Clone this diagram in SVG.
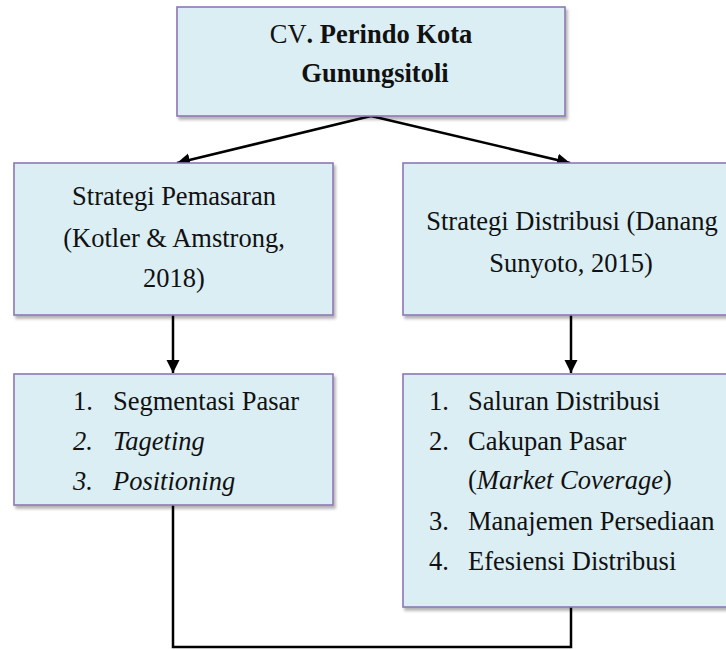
<svg xmlns="http://www.w3.org/2000/svg" width="726" height="650" viewBox="0 0 726 650">
<style>
.box{fill:#DAEEF3;stroke:#8E77B5;stroke-width:1.6;filter:url(#sh)}
.t{font-family:"Liberation Serif","Times New Roman",serif;font-size:26.5px;fill:#111}
.c{text-anchor:middle}
.b{font-weight:bold}
.i{font-style:italic}
.ln{fill:none;stroke:#000;stroke-width:2.5}
</style>
<defs>
<filter id="sh" x="-10%" y="-10%" width="120%" height="130%">
<feDropShadow dx="2" dy="3" stdDeviation="1.8" flood-color="#000" flood-opacity="0.3"/>
</filter>
<marker id="ah" markerUnits="userSpaceOnUse" markerWidth="14" markerHeight="14" viewBox="0 0 14 14" refX="13" refY="7" orient="auto">
<path d="M0,0.5 L13,7 L0,13.5 Z" fill="#000"/>
</marker>
</defs>
<rect width="726" height="650" fill="#fff"/>
<g id="connectors">
<line class="ln" x1="371" y1="116" x2="177" y2="163" marker-end="url(#ah)"/>
<line class="ln" x1="371" y1="116" x2="570" y2="163" marker-end="url(#ah)"/>
<line class="ln" x1="173" y1="315" x2="173" y2="373" marker-end="url(#ah)"/>
<line class="ln" x1="571" y1="315" x2="571" y2="373" marker-end="url(#ah)"/>
<polyline class="ln" points="173,505 173,647 571,647 571,607"/>
</g>
<g id="top">
<rect class="box" x="177" y="7" width="388" height="109"/>
<text class="t c" x="371" y="43">CV<tspan class="b">. Perindo Kota</tspan></text>
<text class="t c b" x="375" y="82">Gunungsitoli</text>
</g>
<g id="pemasaran">
<rect class="box" x="14" y="163" width="319" height="152"/>
<text class="t c" x="174" y="205">Strategi Pemasaran</text>
<text class="t c" x="174" y="247">(Kotler &amp; Amstrong,</text>
<text class="t c" x="174" y="287">2018)</text>
</g>
<g id="distribusi">
<rect class="box" x="403" y="163" width="340" height="152"/>
<text class="t c" x="572" y="230">Strategi Distribusi (Danang</text>
<text class="t c" x="571" y="272">Sunyoto, 2015)</text>
</g>
<g id="stp">
<rect class="box" x="14" y="374" width="319" height="131"/>
<text class="t" x="73" y="410">1.</text>
<text class="t" x="113" y="410">Segmentasi Pasar</text>
<text class="t i" x="73" y="450">2.</text>
<text class="t i" x="113" y="450">Tageting</text>
<text class="t i" x="73" y="490">3.</text>
<text class="t i" x="113" y="490">Positioning</text>
</g>
<g id="dist-items">
<rect class="box" x="403" y="374" width="340" height="233"/>
<text class="t" x="429" y="410">1.</text>
<text class="t" x="468" y="410">Saluran Distribusi</text>
<text class="t" x="429" y="450">2.</text>
<text class="t" x="468" y="450">Cakupan Pasar</text>
<text class="t" x="468" y="489">(<tspan class="i">Market Coverage</tspan>)</text>
<text class="t" x="429" y="530">3.</text>
<text class="t" x="468" y="530">Manajemen Persediaan</text>
<text class="t" x="429" y="570">4.</text>
<text class="t" x="468" y="570">Efesiensi Distribusi</text>
</g>
</svg>
